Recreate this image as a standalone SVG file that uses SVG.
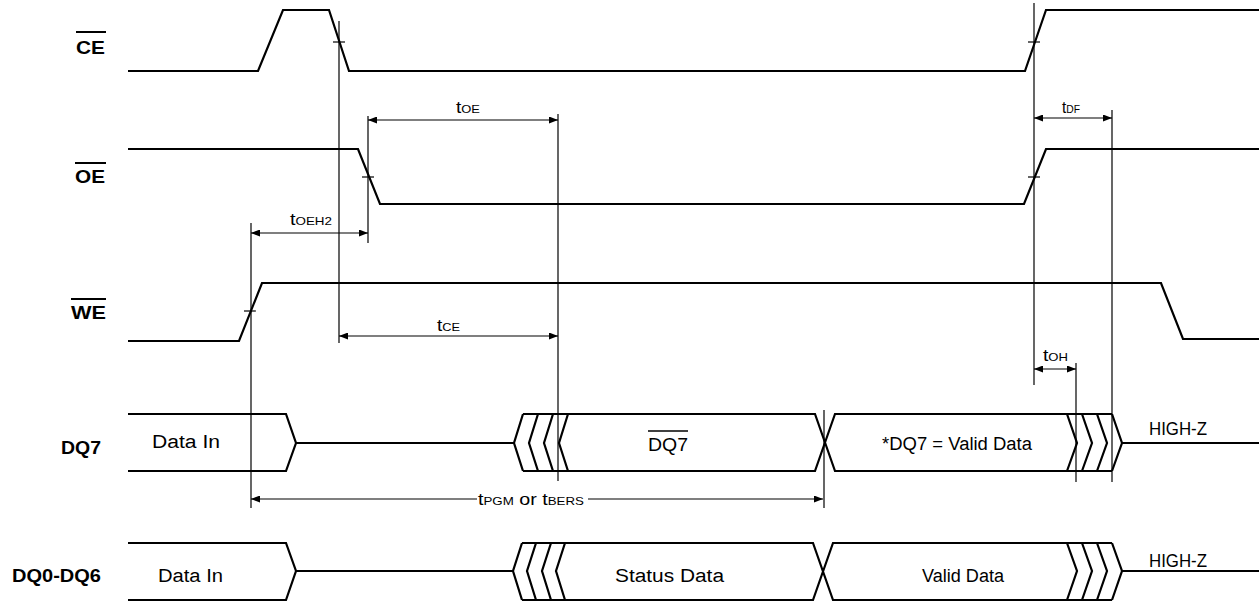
<svg xmlns="http://www.w3.org/2000/svg" width="1259" height="603" viewBox="0 0 1259 603">
<style>
.sig{fill:none;stroke:#000;stroke-width:2.2;stroke-linejoin:miter}
.thin{fill:none;stroke:#000;stroke-width:1.2}
.arr{fill:none;stroke:#000;stroke-width:1.2;marker-start:url(#ah);marker-end:url(#ah)}
.lbl{font-family:"Liberation Sans",Arial,sans-serif;font-weight:bold;font-size:18px;fill:#000}
.dat{font-family:"Liberation Sans",Arial,sans-serif;font-size:18px;fill:#000}
.tm{font-family:"Liberation Sans",Arial,sans-serif;font-size:17px;fill:#000}
.sub{font-size:11.5px}
.ov{stroke:#000;stroke-width:2}
</style>
<defs>
<marker id="ah" viewBox="0 0 9 7" refX="9" refY="3.5" markerWidth="9" markerHeight="7" markerUnits="userSpaceOnUse" orient="auto-start-reverse">
<path d="M0,0 L9,3.5 L0,7 z" fill="#000"/>
</marker>
</defs>
<rect width="1259" height="603" fill="#fff"/>

<g id="ce">
<text class="lbl" x="76" y="54" textLength="29" lengthAdjust="spacingAndGlyphs">CE</text>
<line class="ov" x1="76" y1="32" x2="106" y2="32"/>
<path class="sig" d="M128,71 H258 L283,10 H329 L349,71 H1025 L1046,10 H1259"/>
<line class="thin" x1="333" y1="42" x2="345" y2="42"/>
<line class="thin" x1="1028" y1="42" x2="1040" y2="42"/>
</g>

<g id="oe">
<text class="lbl" x="75" y="183" textLength="30" lengthAdjust="spacingAndGlyphs">OE</text>
<line class="ov" x1="75" y1="163" x2="106" y2="163"/>
<path class="sig" d="M128,149 H358 L380,204 H1024 L1046,149 H1259"/>
<line class="thin" x1="362" y1="177" x2="374" y2="177"/>
<line class="thin" x1="1028" y1="177" x2="1040" y2="177"/>
</g>

<g id="we">
<text class="lbl" x="71" y="319" textLength="35" lengthAdjust="spacingAndGlyphs">WE</text>
<line class="ov" x1="71" y1="299" x2="106" y2="299"/>
<path class="sig" d="M128,341 H239 L262,283 H1161 L1183,339 H1259"/>
<line class="thin" x1="244" y1="311" x2="256" y2="311"/>
</g>

<g id="dq7">
<text class="lbl" x="61" y="454" textLength="40" lengthAdjust="spacingAndGlyphs">DQ7</text>
<path class="sig" d="M128,414 H286 L296,443 L286,471 H128"/>
<path class="sig" d="M296,443 H514"/>
<path class="sig" d="M523,414 L514,443 L523,471 M538,414 L529,443 L538,471 M553,414 L544,443 L553,471 M568,414 L559,443 L568,471"/>
<path class="sig" d="M523,414 H815 L835,471 H1112 M523,471 H815 L835,414 H1112"/>
<path class="sig" d="M1067,414 L1077,443 L1067,471 M1082,414 L1092,443 L1082,471 M1097,414 L1107,443 L1097,471 M1112,414 L1122,443 L1112,471"/>
<path class="sig" d="M1122,443 H1259"/>
<text class="dat" x="152" y="448" textLength="68" lengthAdjust="spacingAndGlyphs">Data In</text>
<text class="dat" x="648" y="451" textLength="40" lengthAdjust="spacingAndGlyphs">DQ7</text>
<line x1="648" y1="431" x2="688" y2="431" stroke="#000" stroke-width="1.5"/>
<text class="dat" x="882" y="450" textLength="150" lengthAdjust="spacingAndGlyphs">*DQ7 = Valid Data</text>
<text class="dat" x="1149" y="435" textLength="58" lengthAdjust="spacingAndGlyphs">HIGH-Z</text>
</g>

<g id="dq0-dq6">
<text class="lbl" x="12" y="582" textLength="89" lengthAdjust="spacingAndGlyphs">DQ0-DQ6</text>
<path class="sig" d="M128,543 H286 L296,571 L286,600 H128"/>
<path class="sig" d="M296,571 H513"/>
<path class="sig" d="M522,543 L513,571 L522,600 M536,543 L527,571 L536,600 M551,543 L542,571 L551,600 M565,543 L556,571 L565,600"/>
<path class="sig" d="M522,543 H813 L833,600 H1112 M522,600 H813 L833,543 H1112"/>
<path class="sig" d="M1067,543 L1077,571 L1067,600 M1082,543 L1092,571 L1082,600 M1097,543 L1107,571 L1097,600 M1112,543 L1122,571 L1112,600"/>
<path class="sig" d="M1122,571 H1259"/>
<text class="dat" x="158" y="582" textLength="65" lengthAdjust="spacingAndGlyphs">Data In</text>
<text class="dat" x="615" y="582" textLength="109" lengthAdjust="spacingAndGlyphs">Status Data</text>
<text class="dat" x="922" y="582" textLength="82" lengthAdjust="spacingAndGlyphs">Valid Data</text>
<text class="dat" x="1149" y="567" textLength="58" lengthAdjust="spacingAndGlyphs">HIGH-Z</text>
</g>

<g id="connectors">
<line class="thin" x1="339" y1="21" x2="339" y2="343"/>
<line class="thin" x1="368" y1="116" x2="368" y2="243"/>
<line class="thin" x1="558" y1="114" x2="558" y2="481"/>
<line class="thin" x1="251" y1="223" x2="251" y2="508"/>
<line class="thin" x1="1034" y1="3" x2="1034" y2="385"/>
<line class="thin" x1="1112" y1="110" x2="1112" y2="482"/>
<line class="thin" x1="1076" y1="363" x2="1076" y2="482"/>
<line class="thin" x1="824" y1="410" x2="824" y2="508"/>

<line class="arr" x1="368" y1="120" x2="558" y2="120"/>
<line class="arr" x1="1034" y1="118" x2="1112" y2="118"/>
<line class="arr" x1="251" y1="233" x2="368" y2="233"/>
<line class="arr" x1="339" y1="336" x2="558" y2="336"/>
<line class="arr" x1="1034" y1="369" x2="1076" y2="369"/>
<line class="thin" x1="251" y1="499" x2="477" y2="499" marker-start="url(#ah)"/>
<line class="thin" x1="588" y1="499" x2="823" y2="499" marker-end="url(#ah)"/>

<text class="tm" x="456" y="113" textLength="24" lengthAdjust="spacingAndGlyphs">t<tspan class="sub">OE</tspan></text>
<text class="tm" x="1062" y="113" textLength="18" lengthAdjust="spacingAndGlyphs">t<tspan class="sub">DF</tspan></text>
<text class="tm" x="290" y="225" textLength="42" lengthAdjust="spacingAndGlyphs">t<tspan class="sub">OEH2</tspan></text>
<text class="tm" x="437" y="331" textLength="23" lengthAdjust="spacingAndGlyphs">t<tspan class="sub">CE</tspan></text>
<text class="tm" x="1043" y="361" textLength="25" lengthAdjust="spacingAndGlyphs">t<tspan class="sub">OH</tspan></text>
<text class="tm" x="478" y="505" textLength="106" lengthAdjust="spacingAndGlyphs">t<tspan class="sub">PGM</tspan> or t<tspan class="sub">BERS</tspan></text>
</g>
</svg>
